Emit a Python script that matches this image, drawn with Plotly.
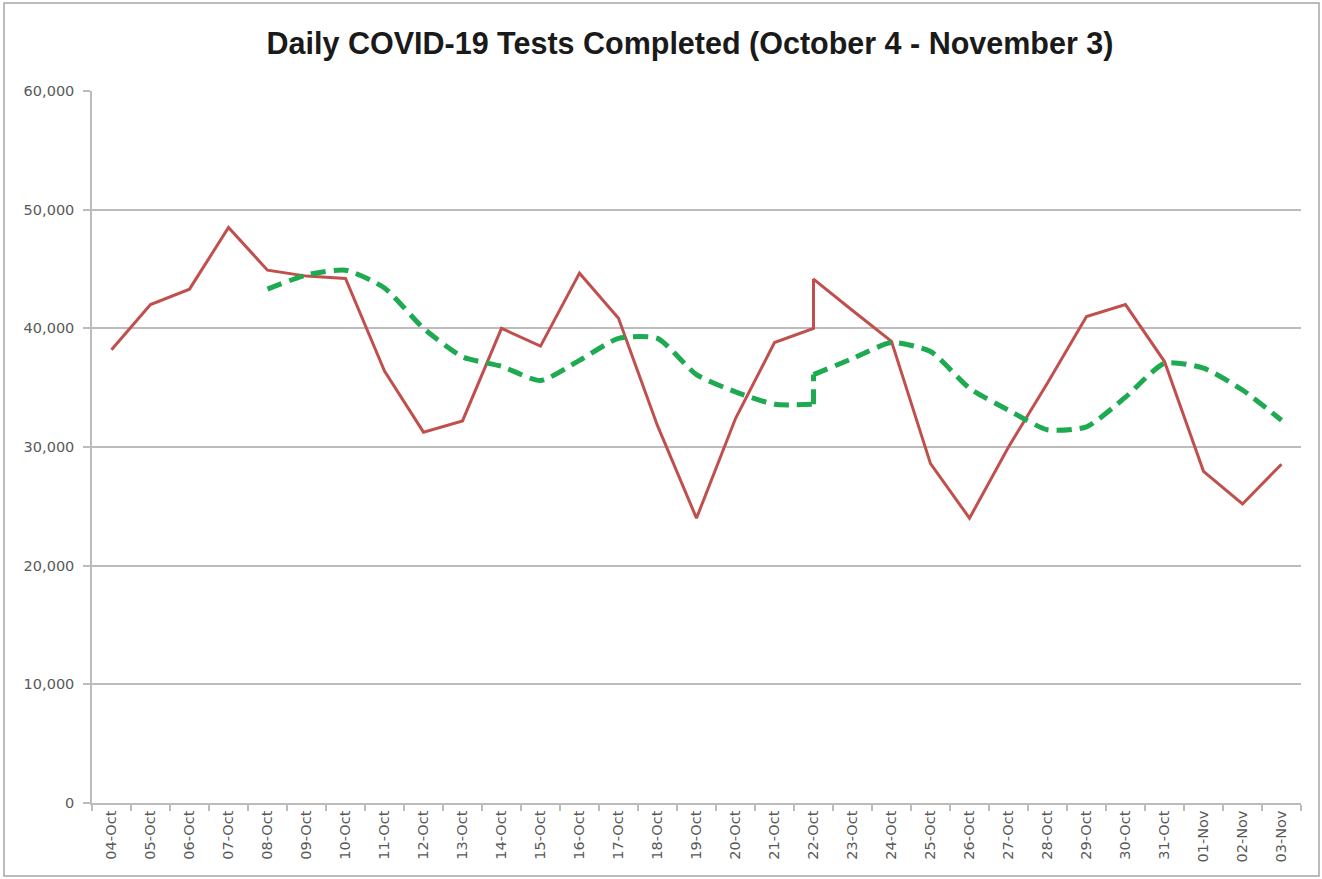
import plotly.graph_objects as go

# Category labels (22-Oct appears twice: value revised on that day)
dates = ["04-Oct", "05-Oct", "06-Oct", "07-Oct", "08-Oct", "09-Oct", "10-Oct",
         "11-Oct", "12-Oct", "13-Oct", "14-Oct", "15-Oct", "16-Oct", "17-Oct",
         "18-Oct", "19-Oct", "20-Oct", "21-Oct", "22-Oct", "22-Oct", "23-Oct",
         "24-Oct", "25-Oct", "26-Oct", "27-Oct", "28-Oct", "29-Oct", "30-Oct",
         "31-Oct", "01-Nov", "02-Nov", "03-Nov"]

daily_tests = [38200, 42000, 43300, 48500, 44900, 44400, 44200,
               36400, 31250, 32200, 40000, 38500, 44650, 40850,
               31800, 24000, 32400, 38800, 40000, 44150, 41500,
               38900, 28600, 24000, 30000, 35400, 41000, 42000,
               37200, 27950, 25200, 28550]

seven_day_avg = [None, None, None, None, 43300, 44500, 44900,
                 43400, 40000, 37600, 36800, 35600, 37300, 39150,
                 39150, 36100, 34650, 33600, 33600, 36100, 37450,
                 38800, 38050, 34950, 33100, 31450, 31700, 34200,
                 37050, 36650, 34800, 32250]

y_ticks = [0, 10000, 20000, 30000, 40000, 50000, 60000]

# index of the reporting jump (the two 22-Oct entries)
jump = dates.index("22-Oct")

fig = go.Figure()
fig.add_trace(go.Scatter(
    x=dates, y=daily_tests, mode="lines",
    line=dict(color="#C0504D", width=3), showlegend=False, hoverinfo="skip",
))
green = dict(color="#1EAA50", width=5, dash="15px,8px")
segments = [
    (slice(0, jump + 1), "spline"),
    (slice(jump, jump + 2), "linear"),
    (slice(jump + 1, None), "spline"),
]
for sl, shape in segments:
    fig.add_trace(go.Scatter(
        x=dates[sl], y=seven_day_avg[sl], mode="lines",
        line=dict(**green, shape=shape, smoothing=0.6) if shape == "spline" else dict(**green, shape=shape),
        showlegend=False, hoverinfo="skip",
    ))

grid = "#BCBCBC"
fig.update_layout(
    width=1322, height=879,
    margin=dict(l=92, r=21, t=91, b=76),
    paper_bgcolor="white", plot_bgcolor="white",
    title=dict(
        text="<b>Daily COVID-19 Tests Completed (October 4 - November 3)</b>",
        x=(690 - 92) / 1209, xref="paper", xanchor="center",
        y=1 - 43 / 879, yref="container", yanchor="middle",
        font=dict(family="Liberation Sans", size=30.5, color="#1a1a1a"),
    ),
    xaxis=dict(
        type="category", tickson="boundaries", ticks="outside", ticklen=6,
        tickcolor=grid, tickwidth=1.5, showline=True, linecolor=grid, linewidth=1.5,
        showgrid=False, tickangle=-90,
        tickfont=dict(family="DejaVu Sans", size=14.5, color="#595959"),
        range=[-0.5, 30.5],
    ),
    yaxis=dict(
        range=[0, 60000], tickvals=y_ticks, tickformat=",",
        ticks="outside", ticklen=7, tickcolor=grid, tickwidth=1.5,
        showline=True, linecolor=grid, linewidth=1.5,
        showgrid=True, gridcolor=grid, gridwidth=1.5, zeroline=False,
        tickfont=dict(family="DejaVu Sans", size=14.5, color="#595959"),
        ticklabelstandoff=6,
    ),
    shapes=[dict(
        type="rect", xref="paper", yref="paper",
        x0=(4 - 92) / 1209, x1=(1319 - 92) / 1209,
        y0=(803 - 876) / 712, y1=(803 - 3) / 712,
        line=dict(color="#A6A6A6", width=1.5), fillcolor="rgba(0,0,0,0)", layer="below",
    )],
)

fig.write_html(
    "out.html",
    config={"displayModeBar": False},
    post_script="document.body.style.margin='0';document.body.style.overflow='hidden';",
)
